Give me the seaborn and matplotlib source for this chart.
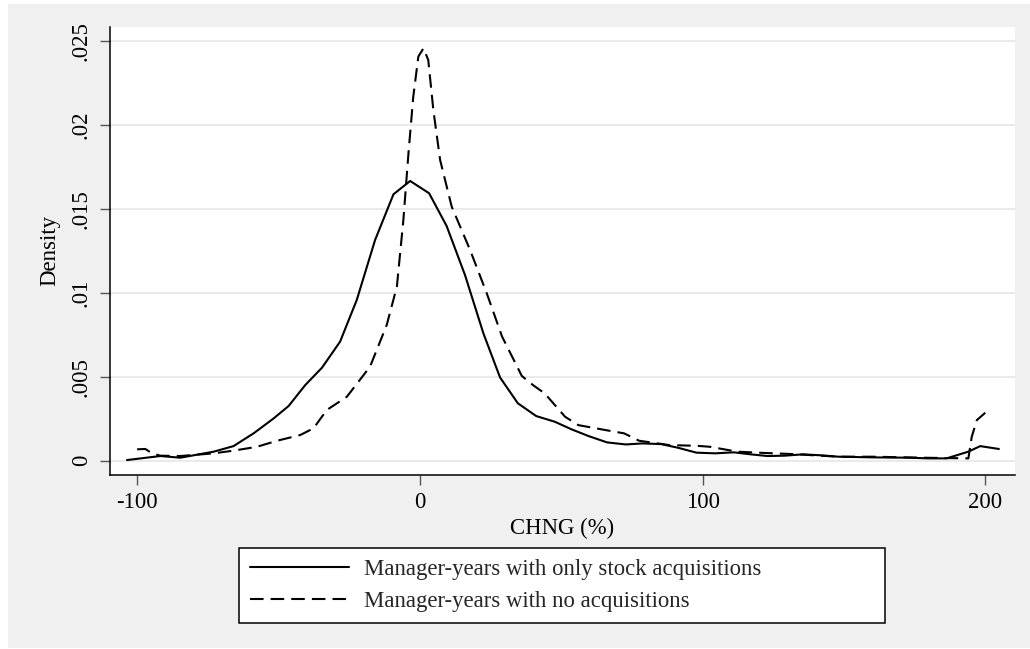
import matplotlib
matplotlib.use("Agg")
import matplotlib.pyplot as plt
import seaborn as sns
import pandas as pd
from matplotlib.patches import Rectangle
from matplotlib.lines import Line2D

# ---- data ----
stock_x = [-103.7, -91.9, -84.8, -73.0, -66.0, -58.9, -51.8, -46.5, -40.6, -34.7,
           -28.3, -22.4, -15.9, -9.4, -3.5, 3.2, 9.4, 15.9, 22.4, 28.3,
           34.6, 41.1, 47.7, 53.6, 59.6, 66.2, 72.8, 78.7, 85.3, 91.3,
           97.8, 104.4, 111.0, 117.0, 122.9, 128.9, 135.5, 142.1, 148.0, 160.0,
           173.1, 179.7, 186.3, 194.0, 198.2, 204.8]
stock_y = [0.00004, 0.00028, 0.00018, 0.00054, 0.00087, 0.00163, 0.00252, 0.00326, 0.00451, 0.00554,
           0.00709, 0.00957, 0.01315, 0.01587, 0.01666, 0.01593, 0.01398, 0.01106, 0.00759, 0.00496,
           0.00342, 0.00266, 0.00232, 0.00187, 0.00147, 0.00109, 0.00097, 0.00103, 0.00099, 0.00077,
           0.00048, 0.00044, 0.00050, 0.00038, 0.00028, 0.00030, 0.00038, 0.00032, 0.00024, 0.00020,
           0.00018, 0.00014, 0.00014, 0.00054, 0.00087, 0.00070]

none_x = [-100.1, -97.2, -94.8, -91.9, -84.8, -73.0, -66.0, -57.7, -50.6, -42.4,
          -37.7, -33.0, -25.9, -17.7, -11.8, -8.2, -5.9, -4.1, -2.4, -0.6,
          1.2, 2.9, 4.7, 7.1, 11.2, 17.7, 23.6, 29.0, 36.0, 40.0,
          44.1, 51.3, 56.0, 66.8, 72.2, 77.5, 88.3, 97.8, 102.6, 112.2,
          119.4, 131.3, 148.0, 160.0, 177.9, 194.0, 195.2, 197.0, 200.0]
none_y = [0.00068, 0.00070, 0.00044, 0.00030, 0.00028, 0.00044, 0.00060, 0.00083, 0.00119, 0.00153,
          0.00193, 0.00302, 0.00381, 0.00560, 0.00808, 0.01037, 0.01434, 0.01831, 0.02168, 0.02407,
          0.02456, 0.02387, 0.02089, 0.01791, 0.01513, 0.01255, 0.00997, 0.00740, 0.00505, 0.00450,
          0.00401, 0.00262, 0.00212, 0.00179, 0.00163, 0.00119, 0.00093, 0.00089, 0.00083, 0.00054,
          0.00048, 0.00040, 0.00024, 0.00024, 0.00018, 0.00014, 0.00143, 0.00242, 0.00286]

series_labels = ["Manager-years with only stock acquisitions",
                 "Manager-years with no acquisitions"]
x_ticks = [-100, 0, 100, 200]
x_tick_labels = ["-100", "0", "100", "200"]
y_ticks = [0, 0.005, 0.01, 0.015, 0.02, 0.025]
y_tick_labels = ["0", ".005", ".01", ".015", ".02", ".025"]
x_label = "CHNG (%)"
y_label = "Density"

# ---- long-format table for seaborn ----
df = pd.concat([
    pd.DataFrame({"x": stock_x, "y": stock_y, "group": series_labels[0]}),
    pd.DataFrame({"x": none_x, "y": none_y, "group": series_labels[1]}),
], ignore_index=True)

sns.set_theme(style="white")
plt.rcParams["font.family"] = ["Liberation Serif", "DejaVu Serif"]

FS = 16.4
W, H = 1030, 649
fig = plt.figure(figsize=(W / 100, H / 100), dpi=100)
fig.patch.set_facecolor("white")
fig.patches.append(Rectangle((8 / W, 1 / H), (W - 8) / W, 644 / H,
                             transform=fig.transFigure, facecolor="#f0f0f0",
                             edgecolor="none", zorder=-10))

ax = fig.add_axes([110 / W, 174 / H, 905 / W, 448 / H])
ax.set_facecolor("white")

dash = (6.5, 3.4)
sns.lineplot(data=df, x="x", y="y", style="group", style_order=series_labels,
             dashes={series_labels[0]: "", series_labels[1]: dash},
             color="black", lw=1.5, ax=ax, legend=False, sort=False,
             estimator=None)

ax.set_xlim(-109.7, 210.5)
ax.set_ylim(-0.00085, 0.02583)

ax.set_xticks(x_ticks, x_tick_labels)
ax.set_yticks(y_ticks, y_tick_labels)
ax.tick_params(axis="both", which="major", bottom=True, left=True,
               direction="out", length=7, width=1, color="#555555",
               labelsize=FS, labelcolor="black", pad=5)
ax.tick_params(axis="y", labelrotation=90, pad=6)
for lbl in ax.get_yticklabels():
    lbl.set_va("center")

ax.yaxis.grid(True, color="#e6e6e6", lw=1.2)
ax.xaxis.grid(False)
ax.set_axisbelow(True)

for s in ["top", "right"]:
    ax.spines[s].set_visible(False)
for s in ["left", "bottom"]:
    ax.spines[s].set_color("black")
    ax.spines[s].set_linewidth(1.1)

ax.set_xlabel(x_label, fontsize=FS, labelpad=4, color="black")
ax.set_ylabel(y_label, fontsize=FS, labelpad=8, color="black")

handles = [Line2D([], [], color="black", lw=1.5),
           Line2D([], [], color="black", lw=1.5, dashes=dash)]
leg = ax.legend(handles, series_labels, loc="upper left",
                bbox_to_anchor=(239 / W, 1 - 548 / H, 646 / W, 0),
                bbox_transform=fig.transFigure, mode="expand",
                frameon=True, fancybox=False, edgecolor="black",
                facecolor="white", framealpha=1, fontsize=FS,
                handlelength=4.35, handletextpad=0.66, borderpad=0.48,
                labelspacing=0.5, borderaxespad=0)
leg.get_frame().set_linewidth(1.1)

fig.savefig("out.png", dpi=100, facecolor=fig.get_facecolor())
